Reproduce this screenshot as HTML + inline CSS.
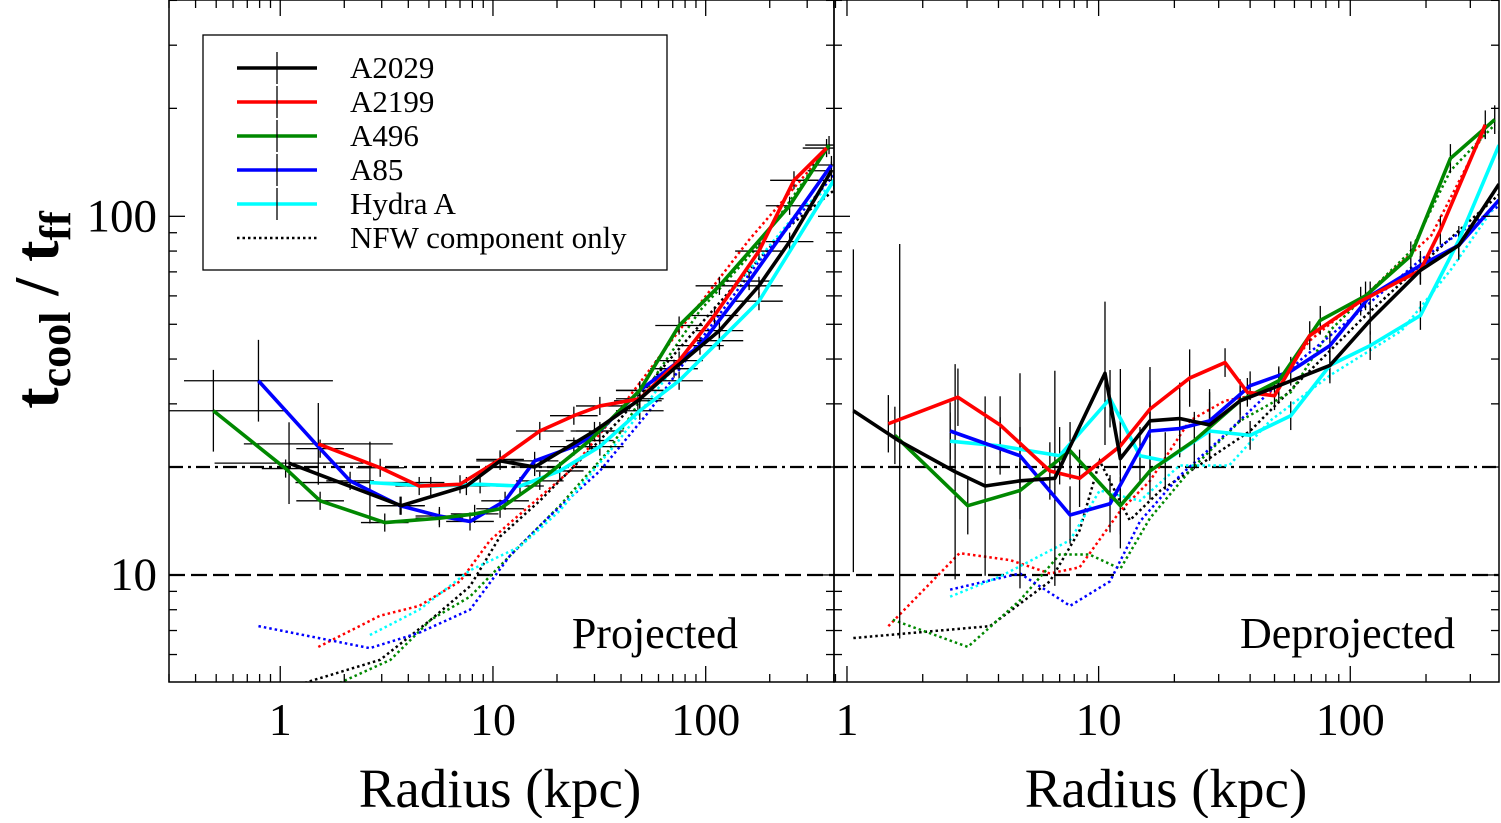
<!DOCTYPE html>
<html><head><meta charset="utf-8"><style>
body{margin:0;background:#fff;}
svg text{font-family:"Liberation Serif",serif;fill:#000;}
</style></head><body>
<svg id="c" width="1501" height="818" xmlns="http://www.w3.org/2000/svg"></svg>
<script>
// ---- data ----
const yTicks=[10,100];
const xTicks=[1,10,100];
const seriesNames=["A2029","A2199","A496","A85","Hydra A"];
const colors=["#000","#f00","#080","#00f","#0ff"];
const projR=[
[1.1,3.7,7.5,10.8,15.7,30,48,71,116,178,248,390],
[1.51,2.95,4.5,7.0,10.8,16.6,24,31.8,49,75,110,178,260,370],
[0.485,1.06,1.54,3.1,5.6,8.2,10.8,16.6,28.5,49,75,116,248,380],
[0.79,1.54,2.13,3.66,5.6,7.8,11.4,15.7,24,31.8,49,94,160,390],
[2.64,5.1,8.7,13.4,20.6,31.8,49,75,116,178,400]];
const projT=[
[20.5,15.6,17.7,20.8,20,25.2,30.6,37.6,48,64,85,134],
[23.2,19.9,17.7,17.9,21.0,25.2,27.8,29.6,31,39.6,52.9,80,126,155],
[28.7,19.8,16.1,14.0,14.4,14.8,15.3,18.3,23.7,32.7,49.6,64,107,158],
[34.8,22.5,18.3,15.6,14.6,14.1,16.1,20.8,22.8,25.2,32.7,43.6,66,139],
[18.1,17.7,17.9,17.7,19.5,22.8,28.7,34.8,45,58,126]];
const projNfwR=[
[1.3,2.95,5.1,7.8,10.8,16.6,25.5,39,67,130,248,400],
[1.51,2.95,4.5,7.0,9.7,14.9,23,39,75,160,370],
[1.9,3.3,5.1,7.8,12,20.6,35,60,94,178,380],
[0.79,2.64,4.5,7.8,12,18.5,31.8,54.5,94,178,400],
[2.64,4.5,7.8,13.4,20.6,39,75,145,275,400]];
const projNfwT=[
[5.0,5.8,7.5,9.3,12.8,16.1,20.8,26.9,39.6,62,94,118],
[6.3,7.7,8.2,9.6,12.5,15.6,19.5,28.7,48,86,153],
[5.0,5.8,7.5,8.7,11.3,15.6,22.2,37,54.6,83,158],
[7.2,6.25,6.9,8.0,11.3,14.6,19.5,28.7,45,75,130],
[6.8,8.0,10.3,12.0,15.1,23.7,39.6,66,104,123]];
const deprR=[
[1.06,1.62,2.69,3.54,4.87,6.7,10.6,12.2,16,21,27.6,36.5,52,83,120,190,270,390],
[1.46,2.76,4.06,6.4,8.4,12.2,16,23,31.8,39,50,69,110,190,228,344],
[1.55,3.02,4.87,7.7,12.2,16,24,36.5,52,76,115,174,250,375],
[2.57,4.87,7.7,11.1,16,21,27.6,40,58,83,120,190,270,390],
[2.57,4.06,7.0,11.1,14.6,18.4,27.6,40,58,83,120,190,270,390]];
const deprT=[
[28.7,23.6,19.4,17.7,18.3,18.6,36.5,21.1,26.9,27.3,26.2,30.6,33.7,38.4,51.3,70.7,83,123],
[26.4,31.3,26.2,19.5,18.6,22.9,29,35.4,39.1,32.3,31.6,46.5,58,70.7,91.4,180],
[24.5,15.6,17.2,22.2,15.6,19.5,23.7,30.6,34.8,51.3,60,77.6,145,186],
[25.2,21.5,14.7,15.8,25.2,25.6,26.9,33.7,37,43.6,60,73,83,111],
[23.6,22.9,21.5,31,21.5,20.8,25.2,24.5,27.8,38.4,43.6,52.9,85.7,158]];
const deprNfwR=[
[1.06,2.34,3.7,6.4,8.4,10.1,13.3,17.6,25,40,63,110,190,390],
[1.46,2.8,4.45,6.4,8.4,12.2,16,23,31.8,48,69,120,210,344],
[1.52,3.02,4.87,7.0,9.2,12.2,16,23,36.5,58,83,174,250,375],
[2.57,4.87,7.7,11.1,14.6,21,30,44,63,110,190,390],
[2.57,4.06,7.7,10.1,14.6,21,33,48,83,160,250,390]];
const deprNfwT=[
[6.67,7.0,7.2,9.6,13.3,20.8,14.2,17.2,20.2,25.2,34.8,51.3,73,115],
[7.2,11.5,11.0,10.1,10.5,15.1,18.3,26.9,30.6,32.3,45,62,88.5,174],
[7.5,6.3,8.5,11.4,11.4,10.4,14.4,19.5,26.9,32.3,48,80,134,180],
[9.1,10.1,8.2,9.6,14.1,18.9,23.7,30.6,39.6,54.6,75.6,107],
[8.7,9.9,12.5,17.2,16.1,20.2,20.2,26.9,36,48,70.7,111]];
const deprErrBlack=[0.45,0.55,0.3,0.25,0.3,0.3,0.2,0.25,0.15,0.1,0.1,0.06,0.05,0.05,0.04,0.04,0.04,0.04];

// ---- helpers ----
const S=document.getElementById('c');const NS="http://www.w3.org/2000/svg";
function mk(t,a,p){const e=document.createElementNS(NS,t);for(const k in a)e.setAttribute(k,a[k]);(p||S).appendChild(e);return e;}
const T=0,B=682,yLo=Math.log10(5.03),yHi=Math.log10(401);
function Y(v){return B-(Math.log10(v)-yLo)/(yHi-yLo)*(B-T);}
const panels=[
 {x0:169,x1:834,lo:Math.log10(0.3),hi:Math.log10(401),name:"projected"},
 {x0:834,x1:1499,lo:Math.log10(0.888),hi:Math.log10(390),name:"deprojected"}];
function X(p,v){return p.x0+(Math.log10(v)-p.lo)/(p.hi-p.lo)*(p.x1-p.x0);}
function clipRect(p,id){const cp=mk('clipPath',{id:id});mk('rect',{x:p.x0,y:T,width:p.x1-p.x0,height:B-T},cp);}

panels.forEach((p,pi)=>{
 const g=mk('g',{});
 
 
 clipRect(p,'cl'+pi);
 const inner=mk('g',{'clip-path':'url(#cl'+pi+')'},g);
 const l20=mk('line',{x1:p.x0,x2:p.x1,y1:Y(20),y2:Y(20),stroke:'#000','stroke-width':2.2,'stroke-dasharray':'14,5,3,5'},inner);
 
 
 const l10=mk('line',{x1:p.x0,x2:p.x1,y1:Y(10),y2:Y(10),stroke:'#000','stroke-width':2.2,'stroke-dasharray':'16,6'},inner);
 
 
 const R=pi?deprR:projR,Tt=pi?deprT:projT,NR=pi?deprNfwR:projNfwR,NT=pi?deprNfwT:projNfwT;
 for(let s=0;s<5;s++){
  const pl=mk('polyline',{points:NR[s].map((r,i)=>X(p,r)+','+Y(NT[s][i])).join(' '),fill:'none',stroke:colors[s],'stroke-width':2.5,'stroke-dasharray':'2.5,3'},inner);
  
  
 }
 for(let s=0;s<5;s++){
  R[s].forEach((r,i)=>{
   const t=Tt[s][i];
   if(pi===0){
    const e=(i===0?0.25:0.08);
    mk('line',{x1:X(p,r/Math.pow(10,e*1.4)),x2:X(p,r*Math.pow(10,e*1.4)),y1:Y(t),y2:Y(t),stroke:'#000','stroke-width':1.3},inner);
    mk('line',{x1:X(p,r),x2:X(p,r),y1:Y(t*(i===0?1.3:1.06)),y2:Y(t/(i===0?1.3:1.06)),stroke:'#000','stroke-width':1.3},inner);
   }else{
    const e=s===0?deprErrBlack[i]:(r<30?0.08:0.04);
    mk('line',{x1:X(p,r),x2:X(p,r),y1:Y(t*Math.pow(10,e)),y2:Y(t/Math.pow(10,e)),stroke:'#000','stroke-width':1.3},inner);
   }
  });
 }
 for(let s=4;s>=0;s--){
  const pl=mk('polyline',{points:R[s].map((r,i)=>X(p,r)+','+Y(Tt[s][i])).join(' '),fill:'none',stroke:colors[s],'stroke-width':3.6,'stroke-linejoin':'round'},inner);
  
  
 }
 mk('rect',{x:p.x0,y:T,width:p.x1-p.x0,height:B-T,fill:'none',stroke:'#000','stroke-width':1.5},g);
 for(let d=-1;d<=2;d++)for(let m=1;m<10;m++){
  const v=m*Math.pow(10,d);const x=X(p,v);if(x<p.x0||x>p.x1)continue;
  const L=m===1?16:8;
  mk('line',{x1:x,x2:x,y1:B,y2:B-L,stroke:'#000','stroke-width':1.3},g);
  mk('line',{x1:x,x2:x,y1:T,y2:T+L,stroke:'#000','stroke-width':1.3},g);
 }
 xTicks.forEach(v=>{const t=mk('text',{x:X(p,v),y:735,'font-size':46,'text-anchor':'middle'},g);t.textContent=v;
  
  });
 for(let d=0;d<=2;d++)for(let m=1;m<10;m++){
  const v=m*Math.pow(10,d);const y=Y(v);if(y<T||y>B)continue;
  const L=m===1?16:8;
  mk('line',{x1:p.x0,x2:p.x0+L,y1:y,y2:y,stroke:'#000','stroke-width':1.3},g);
  mk('line',{x1:p.x1,x2:p.x1-L,y1:y,y2:y,stroke:'#000','stroke-width':1.3},g);
 }
 const xt=mk('text',{x:pi?1166:500,y:807,'font-size':55,'text-anchor':'middle'},g);xt.textContent='Radius (kpc)';
 
 
 const pt=mk('text',{x:pi?1455:738,y:648,'font-size':44,'text-anchor':'end'},g);pt.textContent=pi?'Deprojected':'Projected';
 
 
});
yTicks.forEach(v=>{const t=mk('text',{x:157,y:Y(v)+15,'font-size':47,'text-anchor':'end'});t.textContent=v;
 
 });
const yt=mk('text',{transform:'translate(58,310) rotate(-90)','font-size':64,'text-anchor':'middle','font-weight':'bold'});


yt.innerHTML='<tspan>t</tspan><tspan font-size="44" dy="12">cool</tspan><tspan dy="-12"> / t</tspan><tspan font-size="44" dy="12">ff</tspan>';
const lg=mk('g',{});


mk('rect',{x:203,y:35,width:464,height:235,fill:'#fff',stroke:'#000','stroke-width':1.3},lg);
const legLabels=seriesNames.concat(['NFW component only']);
legLabels.forEach((n,i)=>{
 const y=68+i*34;
 const e=mk('g',{},lg);
 
 
 if(i<5){mk('line',{x1:237,x2:317,y1:y,y2:y,stroke:colors[i],'stroke-width':3.6},e);
  mk('line',{x1:277,x2:277,y1:y-16,y2:y+16,stroke:'#000','stroke-width':1.3},e);}
 else mk('line',{x1:237,x2:317,y1:y,y2:y,stroke:'#000','stroke-width':2.5,'stroke-dasharray':'2.5,3'},e);
 const t=mk('text',{x:350,y:y+10,'font-size':31},e);t.textContent=n;
});
</script>
</body></html>
